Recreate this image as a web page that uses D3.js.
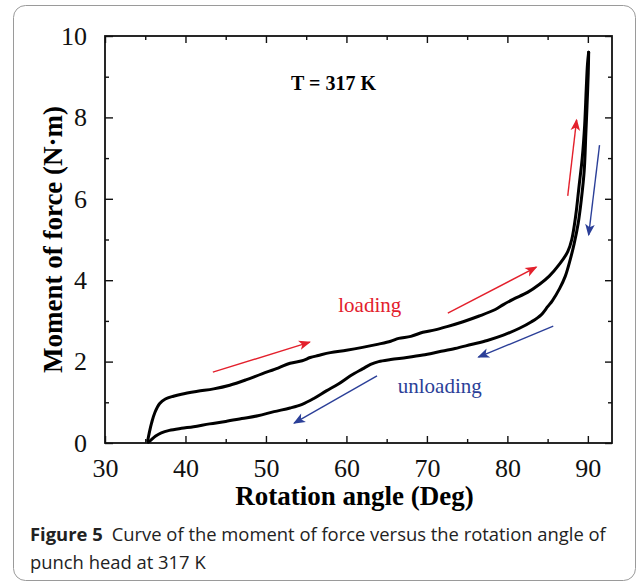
<!DOCTYPE html>
<html>
<head>
<meta charset="utf-8">
<script src="https://cdn.jsdelivr.net/npm/d3@7"></script>
<style>
  body { margin: 0; background: #fff; }
  svg { display: block; }
  .serif { font-family: "Liberation Serif", "Times New Roman", serif; }
  .axis path { display: none; }
  .axis line { stroke: #111; stroke-width: 1.4; }
  .axis text { font-family: "Liberation Serif", serif; font-size: 26px; fill: #111; }
</style>
</head>
<body>
<svg id="chart" width="637" height="583"></svg>
<script>
// angle (deg) and moment (N·m)
var loadAngle = [35.3, 35.5, 35.8, 36.2, 36.8, 37.5, 38.5, 39.5, 41.5, 43.5, 45.5, 47.5, 49.5, 51.5, 53, 54.5, 55.5, 56.5, 58, 60, 62, 64, 65.5, 66.5, 68, 69.5, 71, 72.5, 74.5, 76.5, 78.5, 79.5, 80.7, 82.5, 84, 85.2, 86.5, 87.5, 88, 88.5, 88.9, 89.3, 89.6, 89.8, 89.95, 90.1];
var loadMoment = [0.05, 0.25, 0.5, 0.75, 0.97, 1.08, 1.15, 1.2, 1.27, 1.33, 1.42, 1.55, 1.7, 1.84, 1.96, 2.02, 2.1, 2.15, 2.22, 2.28, 2.35, 2.43, 2.5, 2.57, 2.62, 2.72, 2.78, 2.86, 2.98, 3.12, 3.28, 3.4, 3.53, 3.7, 3.9, 4.1, 4.4, 4.7, 5.0, 5.6, 6.3, 7.0, 7.8, 8.7, 9.3, 9.6];
var unloadAngle = [90.1, 90.05, 89.9, 89.75, 89.55, 89.2, 88.8, 88.3, 87.8, 87.2, 86.5, 85.6, 85, 84.2, 83, 81.5, 79.5, 77.5, 75.5, 73.5, 71.5, 69.5, 67.5, 65.5, 64, 63, 62, 60.5, 59, 57.5, 56, 54.5, 53, 51, 49, 47, 45, 43, 41, 39.5, 38, 37, 36.3, 35.7, 35.4];
var unloadMoment = [9.6, 9.1, 8.3, 7.6, 6.7, 6.0, 5.4, 4.9, 4.5, 4.1, 3.8, 3.5, 3.35, 3.15, 2.98, 2.82, 2.65, 2.52, 2.42, 2.32, 2.24, 2.16, 2.1, 2.05, 2.0, 1.93, 1.82, 1.65, 1.45, 1.28, 1.1, 0.95, 0.86, 0.77, 0.67, 0.6, 0.53, 0.47, 0.4, 0.36, 0.31, 0.25, 0.17, 0.07, 0.02];

var xTicks = [30, 40, 50, 60, 70, 80, 90];
var xMinor = [35, 45, 55, 65, 75, 85];
var yTicks = [0, 2, 4, 6, 8, 10];
var yMinor = [1, 3, 5, 7, 9];

// direction arrows [x1, y1, x2, y2] in data units
var redArrows = [[43.4, 1.74, 55.45, 2.48], [72.6, 3.19, 83.6, 4.32], [87.5, 6.07, 88.6, 7.94]];
var blueArrows = [[85.7, 2.87, 76.4, 2.11], [63.8, 1.65, 53.5, 0.49], [91.45, 7.32, 90.1, 5.11]];

var svg = d3.select("#chart");
var W = 637, H = 583;
var margin = {top: 36, right: 25, bottom: 140, left: 105};
var w = W - margin.left - margin.right,
    h = H - margin.top - margin.bottom;

var red = "#e3202c", blue = "#2b3f98";

// outer rounded box
svg.append("rect")
    .attr("x", 13.5).attr("y", 5.5)
    .attr("width", 622).attr("height", 575)
    .attr("rx", 12)
    .attr("fill", "none")
    .attr("stroke", "#9a9a9a")
    .attr("stroke-width", 1);

var defs = svg.append("defs");
[["arrRed", red], ["arrBlue", blue]].forEach(function(a) {
    defs.append("marker")
        .attr("id", a[0])
        .attr("viewBox", "0 0 10 10")
        .attr("refX", 9).attr("refY", 5)
        .attr("markerWidth", 14).attr("markerHeight", 12)
        .attr("markerUnits", "userSpaceOnUse")
        .attr("orient", "auto")
        .append("path")
        .attr("d", "M0,1 L10,5 L0,9 L2.5,5 Z")
        .attr("fill", a[1]);
});

var g = svg.append("g")
    .attr("transform", "translate(" + margin.left + "," + margin.top + ")");

var x = d3.scaleLinear().domain([30, 93]).range([0, w]);
var y = d3.scaleLinear().domain([0, 10]).range([h, 0]);

// axes: ticks pointing inward on all four sides
g.append("g").attr("class", "axis")
    .attr("transform", "translate(0," + h + ")")
    .call(d3.axisBottom(x).tickValues(xTicks).tickSizeInner(-7).tickPadding(16));
g.append("g").attr("class", "axis")
    .attr("transform", "translate(0," + h + ")")
    .call(d3.axisBottom(x).tickValues(xMinor).tickSizeInner(-4).tickFormat(""));
g.append("g").attr("class", "axis")
    .call(d3.axisTop(x).tickValues(xTicks).tickSizeInner(-7).tickFormat(""));
g.append("g").attr("class", "axis")
    .call(d3.axisTop(x).tickValues(xMinor).tickSizeInner(-4).tickFormat(""));
g.append("g").attr("class", "axis")
    .call(d3.axisLeft(y).tickValues(yTicks).tickSizeInner(-8).tickPadding(18));
g.append("g").attr("class", "axis")
    .call(d3.axisLeft(y).tickValues(yMinor).tickSizeInner(-4).tickFormat(""));
g.append("g").attr("class", "axis")
    .attr("transform", "translate(" + w + ",0)")
    .call(d3.axisRight(y).tickValues(yTicks).tickSizeInner(-7).tickFormat(""));
g.append("g").attr("class", "axis")
    .attr("transform", "translate(" + w + ",0)")
    .call(d3.axisRight(y).tickValues(yMinor).tickSizeInner(-4).tickFormat(""));

g.append("rect")
    .attr("width", w).attr("height", h)
    .attr("fill", "none")
    .attr("stroke", "#111")
    .attr("stroke-width", 1.8);

// hysteresis loop
var line = d3.line()
    .x(function(d) { return x(d[0]); })
    .y(function(d) { return y(d[1]); })
    .curve(d3.curveCatmullRom);

var loading = d3.zip(loadAngle, loadMoment);
var unloading = d3.zip(unloadAngle, unloadMoment);

[loading, unloading].forEach(function(pts) {
    g.append("path")
        .datum(pts)
        .attr("d", line)
        .attr("fill", "none")
        .attr("stroke", "#000")
        .attr("stroke-width", 3)
        .attr("stroke-linejoin", "round")
        .attr("stroke-linecap", "round");
});

// arrows
function drawArrows(list, color, marker) {
    g.selectAll(null)
        .data(list)
        .enter().append("line")
        .attr("x1", function(d) { return x(d[0]); })
        .attr("y1", function(d) { return y(d[1]); })
        .attr("x2", function(d) { return x(d[2]); })
        .attr("y2", function(d) { return y(d[3]); })
        .attr("stroke", color)
        .attr("stroke-width", 1.4)
        .attr("marker-end", "url(#" + marker + ")");
}
drawArrows(redArrows, red, "arrRed");
drawArrows(blueArrows, blue, "arrBlue");

g.append("text").attr("class", "serif")
    .attr("x", x(62.9)).attr("y", y(3.22))
    .attr("text-anchor", "middle")
    .attr("font-size", 21).attr("fill", red)
    .text("loading");
g.append("text").attr("class", "serif")
    .attr("x", x(71.6)).attr("y", y(1.23))
    .attr("text-anchor", "middle")
    .attr("font-size", 21).attr("fill", blue)
    .text("unloading");

g.append("text").attr("class", "serif")
    .attr("x", x(58.4)).attr("y", y(8.68))
    .attr("text-anchor", "middle")
    .attr("font-size", 20).attr("font-weight", "bold")
    .text("T = 317 K");

// axis titles
svg.append("text").attr("class", "serif")
    .attr("x", margin.left + x(61)).attr("y", 505)
    .attr("text-anchor", "middle")
    .attr("font-size", 27).attr("font-weight", "bold")
    .text("Rotation angle (Deg)");
svg.append("text").attr("class", "serif")
    .attr("transform", "translate(62," + (margin.top + h / 2) + ") rotate(-90)")
    .attr("text-anchor", "middle")
    .attr("font-size", 27).attr("font-weight", "bold")
    .text("Moment of force (N·m)");

// caption
var cap = svg.append("text")
    .attr("x", 30).attr("y", 541)
    .attr("font-family", "'Open Sans', 'Noto Sans', sans-serif")
    .attr("font-size", 18.4).attr("fill", "#222");
cap.append("tspan").attr("font-weight", "bold").text("Figure 5");
cap.append("tspan").attr("dx", 9).text("Curve of the moment of force versus the rotation angle of");
svg.append("text")
    .attr("x", 30).attr("y", 569)
    .attr("font-family", "'Open Sans', 'Noto Sans', sans-serif")
    .attr("font-size", 18.4).attr("fill", "#222")
    .text("punch head at 317 K");
</script>
</body>
</html>
